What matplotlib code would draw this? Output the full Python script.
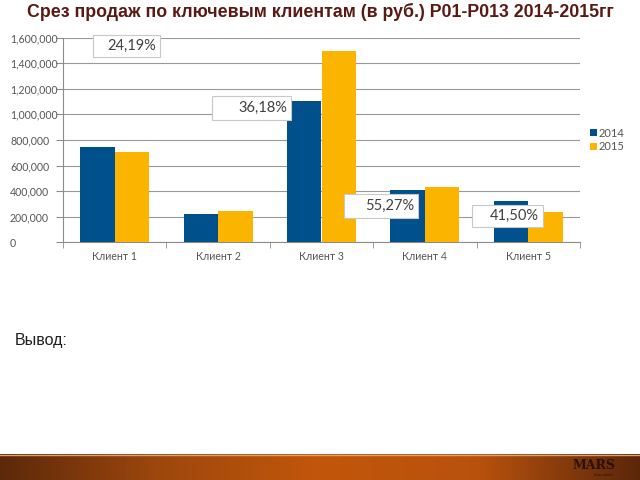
import matplotlib
matplotlib.use("Agg")
import matplotlib.pyplot as plt
import numpy as np
from matplotlib.patches import Rectangle
from matplotlib.ticker import FuncFormatter

categories = ["Клиент 1", "Клиент 2", "Клиент 3", "Клиент 4", "Клиент 5"]
sales_2014 = [747000, 219000, 1106000, 411000, 320000]
sales_2015 = [708000, 245000, 1495000, 432000, 234000]
series_names = ["2014", "2015"]
pct_labels = ["24,19%", "36,18%", "55,27%", "41,50%"]
y_ticks = [0, 200000, 400000, 600000, 800000, 1000000, 1200000, 1400000, 1600000]

W, H = 640, 480
fig = plt.figure(figsize=(6.4, 4.8), dpi=100)
fig.patch.set_facecolor("white")

def fx(px):
    return px / W

def fy(py):
    return 1 - py / H

ax = fig.add_axes([fx(63), fy(242.3), fx(580) - fx(63), fy(37.5) - fy(242.3)])
x = np.arange(len(categories))
w = 1 / 3
blue = "#00508c"
orange = "#fbb500"
ax.bar(x - w / 2, sales_2014, width=w, color=blue, label=series_names[0], zorder=3)
ax.bar(x + w / 2, sales_2015, width=w, color=orange, label=series_names[1], zorder=3)
ax.set_xlim(-0.5, len(categories) - 0.5)
ax.set_ylim(0, 1600000)
ax.set_yticks(y_ticks)
ax.yaxis.set_major_formatter(FuncFormatter(lambda v, p: "0" if v == 0 else f"{int(v):,}"))
ax.grid(axis="y", color="#999999", linewidth=0.8, zorder=0)
for s in ["top", "right"]:
    ax.spines[s].set_visible(False)
for s in ["left", "bottom"]:
    ax.spines[s].set_color("#8c8c8c")
ax.set_xticks(x)
ax.set_xticklabels(categories)
ax.set_xticks(np.arange(-0.5, len(categories) + 0.5, 1), minor=True)
ax.tick_params(axis="x", which="major", length=0, pad=6)
ax.tick_params(axis="x", which="minor", length=4, color="#8c8c8c")
# y labels are left-aligned at x=10px; ticks 7px long
tick_len_px = 7
ax.tick_params(axis="y", length=tick_len_px * 0.72, color="#8c8c8c", pad=(53 - tick_len_px) * 0.72)
for lab in ax.get_yticklabels():
    lab.set_horizontalalignment("left")
for lab in ax.get_xticklabels() + ax.get_yticklabels():
    lab.set_fontfamily("Lato")
    lab.set_fontsize(7.6)
    lab.set_color("#555555")

leg = ax.legend(loc="center left", bbox_to_anchor=(1.0, 0.5), frameon=False,
                prop={"family": "Lato", "size": 8}, handlelength=0.6, handleheight=0.6,
                handletextpad=0.2, labelspacing=0.25, borderaxespad=0.5)
for t in leg.get_texts():
    t.set_color("#555555")

# percentage boxes (figure pixel positions)
boxes = [(93, 35, 160, 57), (212, 96, 291, 120), (344, 194, 418, 218), (472, 205, 543, 227)]
for (x0, y0, x1, y1), lab in zip(boxes, pct_labels):
    fig.patches.append(Rectangle((fx(x0) + 0.002, fy(y1) - 0.003), fx(x1 - x0), fy(y0) - fy(y1),
                                 transform=fig.transFigure, facecolor="#d8d8d8", edgecolor="none", zorder=4))
    fig.patches.append(Rectangle((fx(x0), fy(y1)), fx(x1 - x0), fy(y0) - fy(y1),
                                 transform=fig.transFigure, facecolor="white", edgecolor="#c8c8c8",
                                 linewidth=0.8, zorder=5))
    fig.text(fx(x1 - 4), fy((y0 + y1) / 2), lab, ha="right", va="center", fontsize=10.5,
             family="Lato", color="#404040", zorder=6)

fig.text(0.5, fy(12), "Срез продаж по ключевым клиентам (в руб.) Р01-Р013 2014-2015гг",
         ha="center", va="center", fontsize=12.8, fontweight="bold", family="Liberation Sans",
         color="#5a1a14")
fig.text(fx(15), fy(341), "Вывод:", ha="left", va="center", fontsize=11.5,
         family="Liberation Sans", color="#202020")

# bottom banner gradient
bax = fig.add_axes([0, 0, 1, fy(454)])
bax.set_axis_off()
grad_x = np.linspace(0, 1, 256)
stops_x = [0.0, 0.25, 0.5, 0.75, 0.9, 1.0]
stops_c = np.array([[0.36, 0.16, 0.04], [0.62, 0.28, 0.05], [0.76, 0.34, 0.04],
                    [0.72, 0.32, 0.05], [0.50, 0.22, 0.05], [0.36, 0.15, 0.04]])
img = np.stack([np.interp(grad_x, stops_x, stops_c[:, i]) for i in range(3)], axis=-1)[None, :, :]
img = np.repeat(img, 10, axis=0)
bax.imshow(img, aspect="auto", extent=[0, 1, 0, 1])
bax.set_xlim(0, 1)
bax.set_ylim(0, 1)
bax.axhline(0.97, color="#d9a070", linewidth=1)
bax.text(fx(594), 0.55, "MARS", ha="center", va="center", fontsize=9, fontweight="bold",
         family="DejaVu Serif", color="#2a1208")
bax.text(fx(604), 0.2, "chocolate", ha="center", va="center", fontsize=3, color="#2a1208")

fig.savefig("out.png", dpi=100)
